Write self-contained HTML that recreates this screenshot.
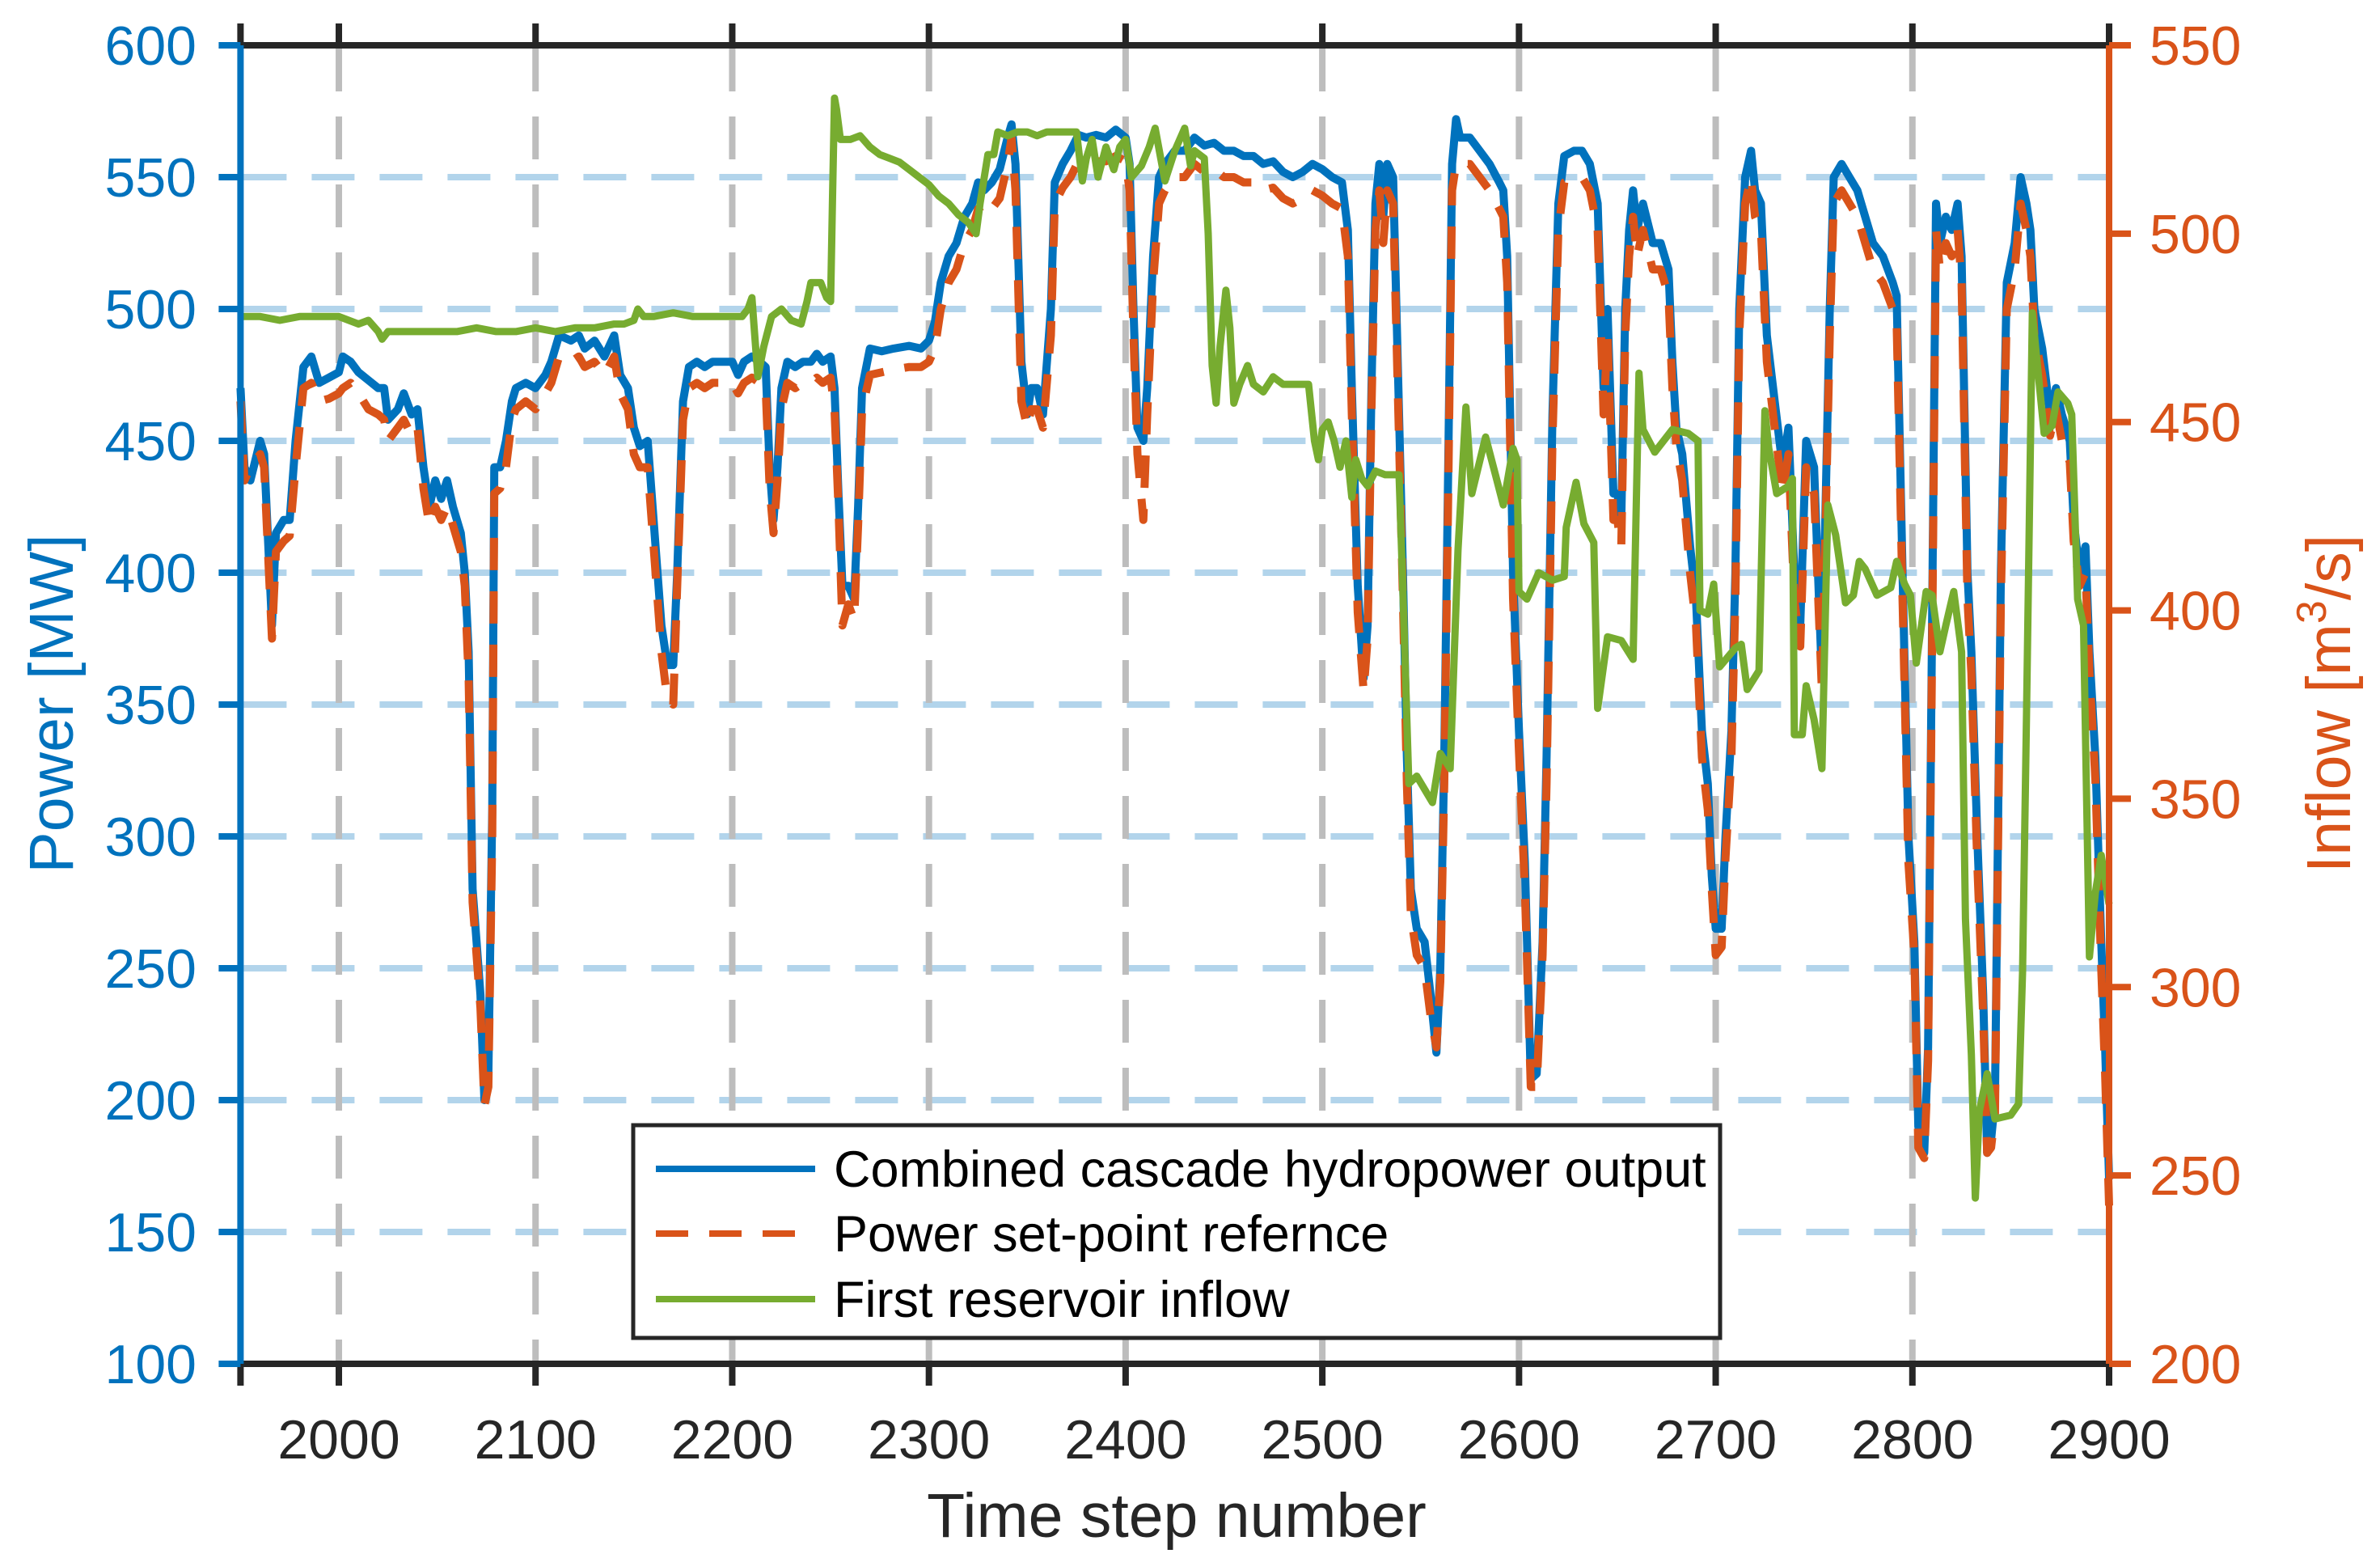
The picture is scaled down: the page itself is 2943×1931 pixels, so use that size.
<!DOCTYPE html>
<html><head><meta charset="utf-8"><style>
html,body{margin:0;padding:0;background:#fff;}
svg{display:block;font-family:"Liberation Sans",Arial,sans-serif;}
</style></head><body>
<svg id="chart" width="2943" height="1931" viewBox="0 0 2943 1931" xmlns="http://www.w3.org/2000/svg">
<rect x="0" y="0" width="2943" height="1931" fill="#fff"/>
<g id="grid"></g>
<g id="series"></g>
<g id="axes"></g>
<g id="legend"></g>
</svg>
<script>
// ---- data ----
const xTicks = [2000,2100,2200,2300,2400,2500,2600,2700,2800,2900];
const powerTicks = [100,150,200,250,300,350,400,450,500,550,600];
const inflowTicks = [200,250,300,350,400,450,500,550];
const powerT = [1950,1952,1955,1960,1962,1966,1968,1972,1975,1978,1982,1986,1990,1995,2000,2002,2006,2010,2015,2020,2023,2025,2030,2033,2037,2040,2043,2046,2049,2052,2055,2058,2062,2064,2066,2068,2070,2072,2074,2076,2078,2079,2082,2085,2088,2090,2095,2100,2105,2108,2112,2118,2122,2125,2130,2135,2140,2143,2147,2150,2153,2157,2160,2164,2167,2170,2172,2175,2178,2182,2186,2190,2195,2200,2203,2206,2210,2214,2217,2219,2221,2223,2225,2228,2232,2236,2240,2243,2246,2250,2252,2254,2256,2259,2262,2264,2266,2270,2276,2282,2290,2296,2300,2303,2306,2310,2314,2318,2322,2325,2328,2332,2336,2340,2342,2344,2347,2350,2352,2355,2358,2362,2364,2368,2372,2376,2380,2385,2390,2395,2400,2402,2404,2406,2409,2411,2414,2417,2420,2425,2430,2435,2440,2445,2450,2455,2460,2465,2470,2475,2480,2485,2490,2495,2500,2505,2510,2513,2515,2518,2521,2523,2525,2527,2529,2531,2533,2536,2539,2541,2543,2545,2548,2552,2555,2558,2560,2562,2564,2566,2568,2570,2575,2580,2585,2590,2592,2594,2597,2600,2603,2606,2609,2612,2614,2617,2620,2623,2628,2632,2636,2640,2643,2645,2648,2650,2652,2654,2656,2658,2660,2663,2668,2672,2676,2678,2680,2683,2687,2690,2693,2696,2698,2700,2703,2705,2708,2710,2712,2715,2718,2720,2723,2726,2730,2734,2737,2740,2743,2746,2750,2754,2758,2760,2764,2768,2772,2776,2780,2785,2790,2792,2795,2798,2801,2803,2806,2808,2810,2812,2814,2817,2820,2823,2825,2828,2830,2833,2836,2838,2840,2842,2845,2848,2852,2855,2858,2860,2862,2866,2870,2873,2876,2880,2882,2885,2888,2890,2893,2896,2898,2900];
const powerOutput = [470,440,435,450,445,380,415,420,420,450,478,482,472,474,476,482,480,476,473,470,470,458,462,468,460,462,440,425,435,428,435,425,415,400,370,280,260,240,200,210,310,440,440,450,465,470,472,470,475,480,490,488,490,485,488,482,490,475,470,455,448,450,420,380,365,365,400,465,478,480,478,480,480,480,475,480,482,480,478,440,420,440,470,480,478,480,480,483,480,482,470,430,395,395,390,425,470,485,484,485,486,485,488,495,510,520,525,535,540,548,545,548,553,565,570,555,480,460,470,470,460,500,548,555,560,566,565,566,565,568,565,555,500,455,450,470,520,550,555,560,560,565,562,563,560,560,558,558,555,556,552,550,552,555,553,550,548,530,470,395,360,380,470,540,555,535,555,550,460,400,330,280,265,260,240,218,250,330,440,555,572,565,565,560,555,548,545,520,400,340,290,208,210,260,330,460,540,558,560,560,555,540,470,500,430,430,420,500,530,545,530,540,525,525,515,480,455,445,410,390,340,320,285,265,265,300,340,400,500,550,560,545,540,490,465,440,455,400,380,450,440,360,500,550,555,550,545,535,525,520,510,505,400,300,260,190,180,220,380,540,525,535,530,540,520,400,370,300,240,180,185,200,400,510,525,550,540,530,500,485,460,470,460,450,420,400,410,370,330,260,220,170];
const powerSetpoint = [465,435,440,445,440,375,408,412,414,440,470,472,465,466,468,470,472,468,462,460,458,450,455,458,452,455,432,418,425,420,425,418,408,395,360,275,255,235,198,205,300,430,432,440,458,462,465,462,468,472,482,480,482,478,480,475,482,468,462,445,440,440,410,370,352,350,395,458,470,472,470,472,472,472,468,472,474,472,470,432,415,435,462,472,470,472,472,474,472,474,462,425,380,388,382,418,462,475,476,477,478,478,480,485,500,510,515,525,530,538,535,538,542,555,565,545,465,455,462,462,455,490,540,546,550,556,555,556,556,558,556,545,490,445,420,460,510,540,545,550,550,555,552,553,550,550,548,548,545,546,542,540,542,545,543,540,538,520,460,385,355,375,462,530,545,525,545,540,450,390,320,270,255,250,232,220,245,320,430,545,555,555,555,550,545,538,535,510,390,332,280,205,205,255,320,450,530,548,550,550,545,530,460,490,420,420,410,490,520,535,520,530,515,515,505,470,448,435,400,380,330,310,280,255,258,292,330,390,490,540,550,535,530,480,455,430,445,390,372,440,430,355,490,540,545,540,535,525,515,510,500,495,390,290,255,182,178,215,370,530,515,525,520,530,510,390,362,290,232,180,182,195,390,500,515,540,530,520,490,475,452,462,450,442,412,395,400,362,322,250,210,160];
const inflowT = [1950,1960,1970,1980,1990,2000,2010,2015,2020,2022,2025,2030,2040,2050,2060,2070,2080,2090,2100,2110,2120,2130,2140,2145,2150,2152,2155,2160,2170,2180,2190,2200,2205,2208,2210,2213,2216,2220,2225,2230,2235,2238,2240,2245,2248,2250,2251,2252,2253,2255,2260,2265,2270,2275,2280,2285,2290,2295,2300,2305,2310,2315,2320,2324,2326,2330,2333,2335,2340,2345,2350,2355,2360,2365,2370,2375,2378,2380,2383,2386,2390,2394,2397,2400,2403,2408,2412,2415,2420,2425,2430,2433,2435,2440,2442,2444,2446,2448,2451,2453,2455,2458,2462,2465,2470,2475,2480,2490,2493,2496,2498,2500,2503,2506,2509,2512,2515,2517,2520,2523,2527,2532,2539,2541,2544,2548,2556,2560,2565,2569,2573,2576,2583,2588,2592,2597,2599,2600,2604,2610,2617,2623,2624,2629,2633,2638,2640,2645,2652,2658,2661,2663,2669,2678,2686,2691,2692,2696,2699,2702,2710,2713,2716,2722,2725,2727,2731,2737,2739,2740,2744,2746,2750,2754,2757,2761,2766,2770,2773,2776,2782,2789,2792,2796,2799,2802,2807,2810,2814,2817,2821,2825,2827,2830,2832,2834,2838,2842,2850,2854,2856,2858,2861,2863,2867,2871,2874,2879,2881,2884,2887,2890,2893,2896,2900];
const inflowVals = [478,478,477,478,478,478,476,477,474,472,474,474,474,474,474,475,474,474,475,474,475,475,476,476,477,480,478,478,479,478,478,478,478,480,483,462,470,478,480,477,476,482,487,487,483,482,510,536,533,525,525,526,523,521,520,519,517,515,513,510,508,505,503,500,508,521,521,527,526,527,527,526,527,527,527,527,514,520,525,515,523,517,523,525,515,518,523,528,514,522,528,518,522,520,500,465,455,470,485,475,455,460,465,460,458,462,460,460,460,445,440,448,450,445,438,445,430,440,435,433,437,436,436,405,354,356,349,362,358,416,454,431,446,436,428,443,440,405,403,410,408,409,422,434,423,418,374,393,392,387,463,448,442,448,447,445,400,399,407,385,390,391,379,384,453,443,431,433,435,367,367,380,371,358,428,420,402,404,413,411,404,406,413,407,404,386,405,404,389,396,405,389,318,282,244,267,277,265,266,269,304,371,479,468,447,449,458,455,452,403,396,308,325,335,322];
// ---- scales ----
const X0=297.4, X1=2608, Y0=56, Y1=1686;
const xs = t => X0 + (t-1950)/(2900-1950)*(X1-X0);
const yp = p => Y1 - (p-100)/(600-100)*(Y1-Y0);
const yq = q => Y1 - (q-200)/(550-200)*(Y1-Y0);
const NS="http://www.w3.org/2000/svg";
function mk(tag, attrs, parent){const e=document.createElementNS(NS,tag);for(const k in attrs)e.setAttribute(k,attrs[k]);parent.appendChild(e);return e;}
const gGrid=document.getElementById('grid'), gSeries=document.getElementById('series'), gAxes=document.getElementById('axes'), gLegend=document.getElementById('legend');
powerTicks.forEach(p=>{ if(p===100||p===600) return;
  const l=mk('line',{x1:X0+4,x2:X1,y1:yp(p),y2:yp(p),stroke:'#0072BD','stroke-opacity':0.3,'stroke-width':8,'stroke-dasharray':'53,31'},gGrid);
  
  
});
xTicks.forEach(t=>{ if(t===2900) return;
  const l=mk('line',{x1:xs(t),x2:xs(t),y1:Y0+4,y2:Y1,stroke:'#bdbdbd','stroke-width':8,'stroke-dasharray':'53,31'},gGrid);
  
  
});
function linePath(T,V,fy){const n=Math.min(T.length,V.length);let d='';for(let i=0;i<n;i++){d+=(i?'L':'M')+xs(T[i]).toFixed(1)+','+fy(V[i]).toFixed(1)+' ';}return d;}
const pb=mk('path',{d:linePath(powerT,powerOutput,yp),fill:'none',stroke:'#0072BD','stroke-width':10,'stroke-linejoin':'round'},gSeries);


const po=mk('path',{d:linePath(powerT,powerSetpoint,yp),fill:'none',stroke:'#D95319','stroke-width':10,'stroke-dasharray':'40,26','stroke-linejoin':'round'},gSeries);


const pg=mk('path',{d:linePath(inflowT,inflowVals,yq),fill:'none',stroke:'#77AC30','stroke-width':9,'stroke-linejoin':'round'},gSeries);


const topAxis=mk('line',{x1:X0,x2:X1,y1:Y0,y2:Y0,stroke:'#262626','stroke-width':8},gAxes);


const botAxis=mk('line',{x1:X0,x2:X1,y1:Y1,y2:Y1,stroke:'#262626','stroke-width':8},gAxes);


const leftAxis=mk('line',{x1:X0,x2:X0,y1:Y0-4,y2:Y1+4,stroke:'#0072BD','stroke-width':8},gAxes);


const rightAxis=mk('line',{x1:X1,x2:X1,y1:Y0-4,y2:Y1+4,stroke:'#D95319','stroke-width':8},gAxes);


xTicks.concat([1950]).forEach(t=>{
  const a=mk('line',{x1:xs(t),x2:xs(t),y1:Y1,y2:Y1+27,stroke:'#262626','stroke-width':8},gAxes);
  
  
  const b=mk('line',{x1:xs(t),x2:xs(t),y1:Y0,y2:Y0-27,stroke:'#262626','stroke-width':8},gAxes);
  
  
});
xTicks.forEach(t=>{
  const tx=mk('text',{x:xs(t),y:1803,'text-anchor':'middle','font-size':68,fill:'#262626'},gAxes);
  tx.textContent=t;
  
  
});
powerTicks.forEach(p=>{
  const a=mk('line',{x1:X0,x2:X0-27,y1:yp(p),y2:yp(p),stroke:'#0072BD','stroke-width':8},gAxes);
  
  
  const tx=mk('text',{x:243,y:yp(p)+24,'text-anchor':'end','font-size':68,fill:'#0072BD'},gAxes);
  tx.textContent=p;
  
  
});
inflowTicks.forEach(q=>{
  const a=mk('line',{x1:X1,x2:X1+27,y1:yq(q),y2:yq(q),stroke:'#D95319','stroke-width':8},gAxes);
  
  
  const tx=mk('text',{x:2658,y:yq(q)+24,'text-anchor':'start','font-size':68,fill:'#D95319'},gAxes);
  tx.textContent=q;
  
  
});
const xTitle=mk('text',{x:1455,y:1900,'text-anchor':'middle','font-size':77,fill:'#262626'},gAxes);
xTitle.textContent='Time step number';


const yTitle=mk('text',{x:0,y:0,'text-anchor':'middle','font-size':77,fill:'#0072BD',transform:'translate(90,870) rotate(-90)'},gAxes);
yTitle.textContent='Power [MW]';


const rTitle=mk('text',{x:0,y:0,'text-anchor':'middle','font-size':77,fill:'#D95319',transform:'translate(2906,870) rotate(-90)'},gAxes);
rTitle.appendChild(document.createTextNode('Inflow [m'));
const sup=mk('tspan',{dy:-30,'font-size':52},rTitle);
sup.textContent='3';
const rest=mk('tspan',{dy:30},rTitle);
rest.textContent='/s]';


const lb=mk('rect',{x:783,y:1391,width:1344,height:263,fill:'#fff',stroke:'#262626','stroke-width':5},gLegend);


const entries=[['Combined cascade hydropower output','#0072BD','none'],['Power set-point refernce','#D95319','40,26'],['First reservoir inflow','#77AC30','none']];
const ly=[1445,1525,1606];
entries.forEach((e,i)=>{
  const l=mk('line',{x1:811,x2:1008,y1:ly[i],y2:ly[i],stroke:e[1],'stroke-width':8,'stroke-dasharray':e[2]},gLegend);
  
  
  const tx=mk('text',{x:1031,y:ly[i]+22,'font-size':63,fill:'#000'},gLegend);
  tx.textContent=e[0];
  
  
});
</script>
</body></html>
